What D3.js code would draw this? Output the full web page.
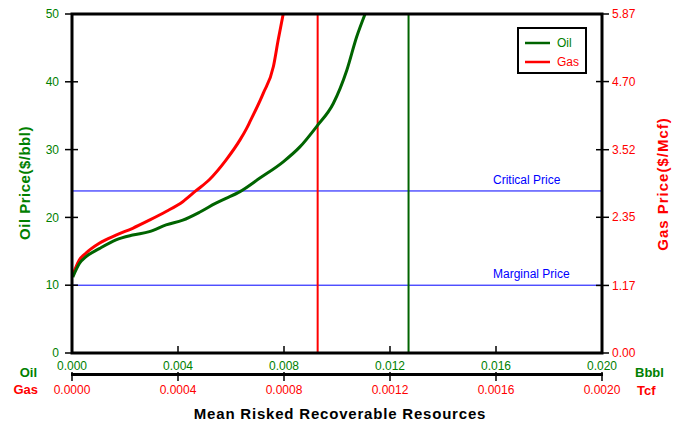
<!DOCTYPE html>
<html><head><meta charset="utf-8">
<script src="https://cdn.jsdelivr.net/npm/d3@7"></script>
<style>body{margin:0;background:#fff}svg{display:block}text{font-family:"Liberation Sans",Arial,sans-serif}</style>
</head><body>
<script>
// Data
const oilX = [0.00003,0.00028,0.00053,0.00103,0.00166,0.00229,0.00292,0.00355,0.00418,0.00483,0.00543,0.00581,0.00634,0.00709,0.00797,0.00860,0.00923,0.00986,0.01037,0.01074,0.01106];
const oilY = [11.2,13.2,14.2,15.4,16.7,17.4,17.9,18.9,19.6,20.8,22.1,22.8,23.8,25.8,28.2,30.4,33.4,36.8,41.7,46.6,50];
const gasX = [0.000003,0.0000275,0.0000528,0.000103,0.000166,0.000229,0.000292,0.000355,0.000418,0.000468,0.000518,0.000581,0.000634,0.000659,0.000672,0.000722,0.000760,0.000778,0.000797];
const gasY = [1.35,1.61,1.73,1.90,2.04,2.16,2.30,2.45,2.62,2.81,3.00,3.34,3.69,3.89,4.01,4.50,4.96,5.42,5.87];
const oilTicksY = [0,10,20,30,40,50];
const gasTicksY = [0,1.17,2.35,3.52,4.70,5.87];
const oilTicksX = [0,0.004,0.008,0.012,0.016,0.020];
const gasTicksX = [0,0.0004,0.0008,0.0012,0.0016,0.0020];
const criticalPrice = 23.9, marginalPrice = 10;
const oilMean = 0.0127, gasMean = 0.000927;

const W=686,H=428, L=72,R=602,T=14,B=353;
const GREEN="#006400", TGREEN="#008000", RED="#ff0000", BLUE="#0000ff";
const svg=d3.select("body").append("svg").attr("width",W).attr("height",H);
const xo=d3.scaleLinear().domain([0,0.02]).range([L,R]);
const xg=d3.scaleLinear().domain([0,0.002]).range([L,R]);
const yo=d3.scaleLinear().domain([0,50]).range([B,T]);
const yg=d3.scaleLinear().domain([0,5.87]).range([B,T]);

// reference lines
[[criticalPrice,"Critical Price"],[marginalPrice,"Marginal Price"]].forEach(([v,lab])=>{
  svg.append("line").attr("x1",L).attr("x2",R).attr("y1",yo(v)).attr("y2",yo(v)).attr("stroke",BLUE).attr("stroke-width",1);
  svg.append("text").attr("x",493).attr("y",yo(v)-7).attr("fill",BLUE).attr("font-size",12).text(lab);
});
svg.append("line").attr("x1",xg(gasMean)).attr("x2",xg(gasMean)).attr("y1",T).attr("y2",B).attr("stroke",RED).attr("stroke-width",2);
svg.append("line").attr("x1",xo(oilMean)).attr("x2",xo(oilMean)).attr("y1",T).attr("y2",B).attr("stroke",GREEN).attr("stroke-width",2);

// curves
const lo=d3.line().curve(d3.curveMonotoneX).x(d=>xo(d[0])).y(d=>yo(d[1]));
const lg=d3.line().curve(d3.curveMonotoneX).x(d=>xg(d[0])).y(d=>yg(d[1]));
svg.append("path").attr("d",lg(gasX.map((x,i)=>[x,gasY[i]]))).attr("fill","none").attr("stroke",RED).attr("stroke-width",3);
svg.append("path").attr("d",lo(oilX.map((x,i)=>[x,oilY[i]]))).attr("fill","none").attr("stroke",GREEN).attr("stroke-width",3);

// frame
svg.append("rect").attr("x",L).attr("y",T).attr("width",R-L).attr("height",B-T).attr("fill","none").attr("stroke","#000").attr("stroke-width",3);

// left axis
const ga=svg.append("g");
oilTicksY.forEach(v=>{
  ga.append("line").attr("x1",L-7).attr("x2",L+6).attr("y1",yo(v)).attr("y2",yo(v)).attr("stroke","#000").attr("stroke-width",1.5);
  ga.append("text").attr("x",L-13).attr("y",yo(v)).attr("dy","0.35em").attr("text-anchor","end").attr("fill",TGREEN).attr("font-size",12).text(v);
});
// right axis
gasTicksY.forEach(v=>{
  ga.append("line").attr("x1",R-6).attr("x2",R+7).attr("y1",yg(v)).attr("y2",yg(v)).attr("stroke","#000").attr("stroke-width",1.5);
  ga.append("text").attr("x",R+10).attr("y",yg(v)).attr("dy","0.35em").attr("fill",RED).attr("font-size",12).text(v.toFixed(2));
});
// bottom oil axis
oilTicksX.forEach(v=>{
  ga.append("line").attr("x1",xo(v)).attr("x2",xo(v)).attr("y1",B-7).attr("y2",B).attr("stroke","#000").attr("stroke-width",1.5);
  ga.append("text").attr("x",xo(v)).attr("y",366).attr("dy","0.35em").attr("text-anchor","middle").attr("fill",TGREEN).attr("font-size",12).text(v.toFixed(3));
});
// gas axis
ga.append("line").attr("x1",L-1).attr("x2",R+1).attr("y1",374.5).attr("y2",374.5).attr("stroke","#000").attr("stroke-width",3);
gasTicksX.forEach(v=>{
  ga.append("line").attr("x1",xg(v)).attr("x2",xg(v)).attr("y1",372).attr("y2",381).attr("stroke","#000").attr("stroke-width",1.5);
  ga.append("text").attr("x",xg(v)).attr("y",390).attr("dy","0.35em").attr("text-anchor","middle").attr("fill",RED).attr("font-size",12).text(v.toFixed(4));
});

// unit labels
const bl=(x,y,t,c,anchor)=>svg.append("text").attr("x",x).attr("y",y).attr("dy","0.35em").attr("fill",c).attr("font-size",13).attr("font-weight","bold").attr("text-anchor",anchor||"start").text(t);
bl(37,372,"Oil",TGREEN,"end");
bl(38,389,"Gas",RED,"end");
bl(635,372,"Bbbl",TGREEN);
bl(637,390,"Tcf",RED);
svg.append("text").attr("x",340).attr("y",414).attr("dy","0.35em").attr("text-anchor","middle").attr("font-size",15).attr("font-weight","bold").attr("letter-spacing",0.8).text("Mean Risked Recoverable Resources");
svg.append("text").attr("transform","translate(25,183) rotate(-90)").attr("dy","0.35em").attr("text-anchor","middle").attr("fill",TGREEN).attr("font-size",15).attr("font-weight","bold").attr("letter-spacing",0.5).text("Oil Price($/bbl)");
svg.append("text").attr("transform","translate(663,184) rotate(-90)").attr("dy","0.35em").attr("text-anchor","middle").attr("fill",RED).attr("font-size",15).attr("font-weight","bold").attr("letter-spacing",1).text("Gas Price($/Mcf)");

// legend
svg.append("rect").attr("x",518).attr("y",28).attr("width",68).attr("height",45).attr("fill","#fff").attr("stroke","#000").attr("stroke-width",2);
[["Oil",GREEN,TGREEN,43],["Gas",RED,RED,62]].forEach(([t,c,tc,y])=>{
  svg.append("line").attr("x1",525).attr("x2",550).attr("y1",y).attr("y2",y).attr("stroke",c).attr("stroke-width",2.5);
  svg.append("text").attr("x",557).attr("y",y).attr("dy","0.35em").attr("fill",tc).attr("font-size",12).text(t);
});
</script>
</body></html>
